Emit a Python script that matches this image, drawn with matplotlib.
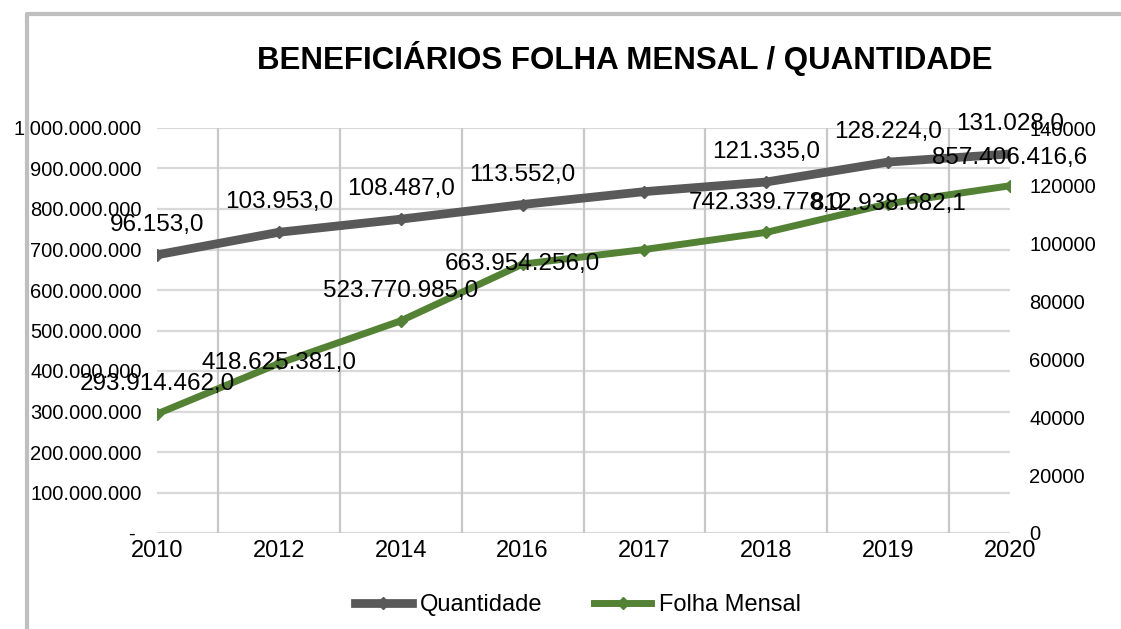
import matplotlib
matplotlib.use("Agg")
import matplotlib.pyplot as plt
from matplotlib.lines import Line2D

plt.rcParams["font.family"] = ["Liberation Sans", "DejaVu Sans"]

years = ["2010", "2012", "2014", "2016", "2017", "2018", "2019", "2020"]
quantidade = [96153.0, 103953.0, 108487.0, 113552.0, 118000.0, 121335.0, 128224.0, 131028.0]
folha = [293914462.0, 418625381.0, 523770985.0, 663954256.0, 700000000.0,
         742339778.0, 812938682.1, 857406416.6]
# 2017 has no data label in the original
quant_labeled = [True, True, True, True, False, True, True, True]
folha_labeled = [True, True, True, True, False, True, True, True]
folha_offsets = [30, 0, 30, 0, 0, 29, 0, 28]

left_ticks = [i * 100000000 for i in range(11)]
right_ticks = [i * 20000 for i in range(8)]

dark = "#595959"
green = "#548235"
grid = "#d9d9d9"


def br(v, dec=1):
    s = f"{v:,.{dec}f}"
    return s.replace(",", "#").replace(".", ",").replace("#", ".")


fig = plt.figure(figsize=(11.21, 6.29), dpi=100)
ax = fig.add_axes([157 / 1121, 1 - 533 / 629, 853 / 1121, 405 / 629])
ax2 = ax.twinx()

x = list(range(len(years)))

ax.set_xlim(0, len(years) - 1)
ax.set_ylim(0, 1000000000)
ax2.set_ylim(0, 140000)

for yv in left_ticks:
    ax.axhline(yv, color=grid, lw=1.6, zorder=0)
for i in range(len(years) - 1):
    ax.axvline(i + 0.5, color="#c8c8c8", lw=1.6, zorder=0)

ax.plot(x, folha, color=green, lw=5, marker="D", ms=6, label="Folha Mensal",
        solid_capstyle="butt", zorder=3)
ax2.plot(x, quantidade, color=dark, lw=6.3, marker="D", ms=6, label="Quantidade",
         solid_capstyle="butt", zorder=3)

for i, v in enumerate(folha):
    if folha_labeled[i]:
        ax2.annotate(br(v), xy=(i, v * 140000 / 1000000000), xytext=(0, folha_offsets[i]),
                     textcoords="offset pixels", ha="center", va="center",
                     fontsize=17.5, color="black", zorder=5)
for i, v in enumerate(quantidade):
    if quant_labeled[i]:
        ax2.annotate(br(v), xy=(i, v), xytext=(0, 30), textcoords="offset pixels",
                     ha="center", va="center", fontsize=17.5, color="black", zorder=5)

ax.set_xticks(x)
ax.set_xticklabels(years, fontsize=17)
ax.set_yticks(left_ticks)
ax.set_yticklabels(["- " if v == 0 else br(v, 0) for v in left_ticks], fontsize=14.5)
ax2.set_yticks(right_ticks)
ax2.set_yticklabels([str(v) for v in right_ticks], fontsize=14.5)

ax.tick_params(axis="both", length=0)
ax.tick_params(axis="y", pad=11)
ax.tick_params(axis="x", pad=5)
ax2.tick_params(axis="y", length=0, pad=14)
for a in (ax, ax2):
    for sp in a.spines.values():
        sp.set_visible(False)

fig.text(625 / 1121, 1 - 58 / 629, "BENEFICIÁRIOS FOLHA MENSAL / QUANTIDADE",
         ha="center", va="center", fontsize=22.5, fontweight="bold")

handles = [
    Line2D([], [], color=dark, lw=6.3, marker="D", ms=6),
    Line2D([], [], color=green, lw=5, marker="D", ms=6),
]
fig.legend(handles, ["Quantidade", "Folha Mensal"], loc="center",
           bbox_to_anchor=(578 / 1121, 1 - 605 / 629), ncol=2, frameon=False,
           fontsize=17, handlelength=2.4, columnspacing=2.2, handletextpad=0.35)

fig.add_artist(Line2D([27 / 1121, 27 / 1121, 1], [0, 1 - 14 / 629, 1 - 14 / 629],
                      color="#bfbfbf", lw=3, transform=fig.transFigure,
                      solid_joinstyle="round"))

fig.savefig("out.png", dpi=100)
